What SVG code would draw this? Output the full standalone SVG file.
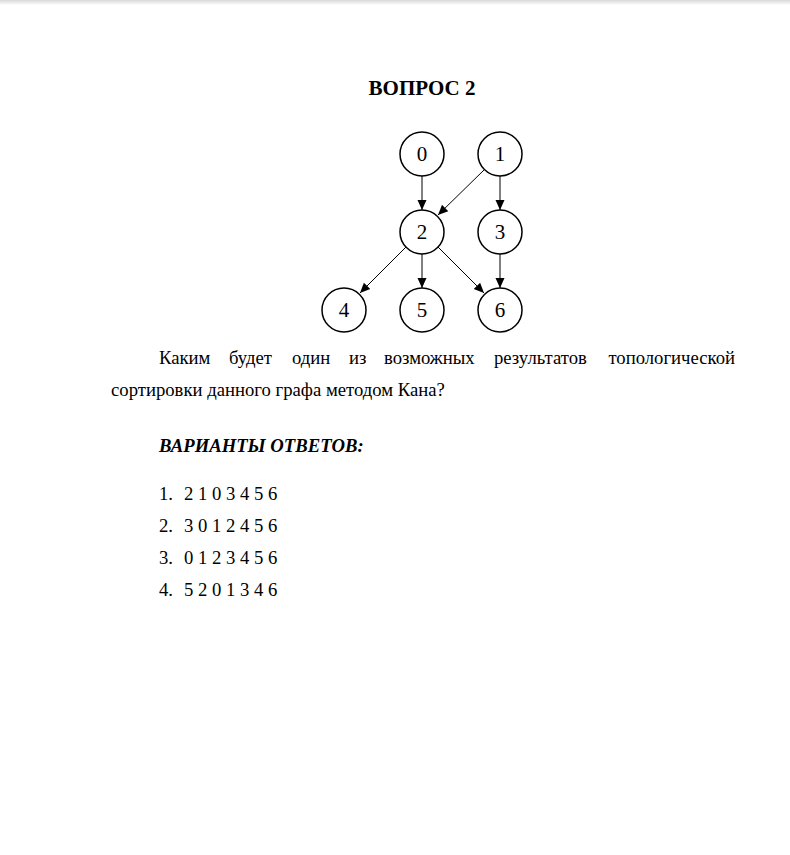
<svg xmlns="http://www.w3.org/2000/svg" width="790" height="855" viewBox="0 0 790 855">
<defs>
<linearGradient id="shadow" x1="0" y1="0" x2="0" y2="1">
<stop offset="0" stop-color="#d8d8d8"/>
<stop offset="1" stop-color="#ffffff"/>
</linearGradient>
<marker id="arr" viewBox="0 0 10 10" refX="10" refY="5" markerWidth="10" markerHeight="10" markerUnits="userSpaceOnUse" orient="auto">
<path d="M0,0.5 L10,5 L0,9.5 z" fill="#000"/>
</marker>
<style>
.n circle{fill:#fff;stroke:#000;stroke-width:1.5}
.n text{font-family:"Liberation Serif","Times New Roman",serif;font-size:21px;text-anchor:middle;fill:#000}
.e line{stroke:#000;stroke-width:1;marker-end:url(#arr)}
.t{font-family:"Liberation Serif","Times New Roman",serif;font-size:18.7px;fill:#000}
.b{font-weight:bold}
.bi{font-weight:bold;font-style:italic}
</style>
</defs>
<rect x="0" y="0" width="790" height="855" fill="#fff"/>
<rect x="0" y="0" width="790" height="5" fill="url(#shadow)"/>

<text class="t b" x="422" y="95" text-anchor="middle" style="font-size:21px">ВОПРОС 2</text>

<g id="edges" class="e">
<line x1="422" y1="176" x2="422" y2="210"/>
<line x1="485" y1="169" x2="438" y2="215"/>
<line x1="500" y1="176" x2="500" y2="210"/>
<line x1="406" y1="247" x2="360" y2="293"/>
<line x1="422" y1="254" x2="422" y2="288"/>
<line x1="438" y1="247" x2="484" y2="293"/>
<line x1="500" y1="254" x2="500" y2="288"/>
</g>

<g id="node0" class="n"><circle cx="422" cy="154" r="22"/><text x="422" y="161">0</text></g>
<g id="node1" class="n"><circle cx="500" cy="154" r="22"/><text x="500" y="161">1</text></g>
<g id="node2" class="n"><circle cx="422" cy="232" r="22"/><text x="422" y="239">2</text></g>
<g id="node3" class="n"><circle cx="500" cy="232" r="22"/><text x="500" y="239">3</text></g>
<g id="node4" class="n"><circle cx="344" cy="310" r="22"/><text x="344" y="317">4</text></g>
<g id="node5" class="n"><circle cx="422" cy="310" r="22"/><text x="422" y="317">5</text></g>
<g id="node6" class="n"><circle cx="500" cy="310" r="22"/><text x="500" y="317">6</text></g>

<g id="question" class="t">
<text x="159" y="364">Каким</text>
<text x="229" y="364">будет</text>
<text x="292" y="364">один</text>
<text x="349" y="364">из</text>
<text x="384" y="364">возможных</text>
<text x="494" y="364">результатов</text>
<text x="735" y="364" text-anchor="end">топологической</text>
<text x="111" y="396">сортировки данного графа методом Кана?</text>
</g>

<text class="t bi" x="159" y="452">ВАРИАНТЫ ОТВЕТОВ:</text>

<g id="answers" class="t">
<text x="159" y="500">1.</text><text x="184" y="500">2 1 0 3 4 5 6</text>
<text x="159" y="532">2.</text><text x="184" y="532">3 0 1 2 4 5 6</text>
<text x="159" y="564">3.</text><text x="184" y="564">0 1 2 3 4 5 6</text>
<text x="159" y="596">4.</text><text x="184" y="596">5 2 0 1 3 4 6</text>
</g>
</svg>
